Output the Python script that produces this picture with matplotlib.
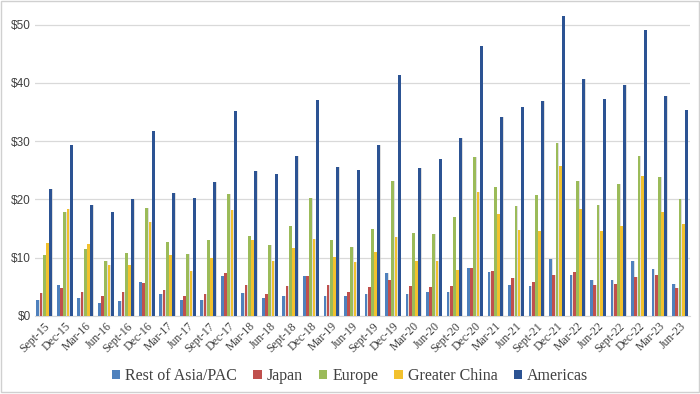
import matplotlib
matplotlib.use("Agg")
import matplotlib.pyplot as plt
from matplotlib.patches import Rectangle
import numpy as np

quarters = ["Sept-15", "Dec-15", "Mar-16", "Jun-16", "Sept-16", "Dec-16", "Mar-17", "Jun-17",
            "Sept-17", "Dec-17", "Mar-18", "Jun-18", "Sept-18", "Dec-18", "Mar-19", "Jun-19",
            "Sept-19", "Dec-19", "Mar-20", "Jun-20", "Sept-20", "Dec-20", "Mar-21", "Jun-21",
            "Sept-21", "Dec-21", "Mar-22", "Jun-22", "Sept-22", "Dec-22", "Mar-23", "Jun-23"]

rest_of_asia = [2.7, 5.4, 3.1, 2.3, 2.6, 5.8, 3.8, 2.7, 2.7, 6.9, 3.9, 3.1, 3.4, 6.9, 3.5, 3.5,
                3.7, 7.4, 3.8, 4.2, 4.1, 8.2, 7.5, 5.3, 5.1, 9.7, 7.0, 6.1, 6.2, 9.4, 8.0, 5.5]
japan = [3.9, 4.8, 4.2, 3.5, 4.2, 5.7, 4.5, 3.5, 3.8, 7.3, 5.4, 3.8, 5.2, 6.9, 5.4, 4.1,
         4.9, 6.2, 5.2, 4.9, 5.1, 8.2, 7.7, 6.5, 5.9, 7.1, 7.6, 5.4, 5.5, 6.7, 7.1, 4.8]
europe = [10.5, 17.9, 11.5, 9.5, 10.8, 18.5, 12.7, 10.7, 13.0, 21.0, 13.8, 12.1, 15.4, 20.3, 13.0, 11.9,
          14.9, 23.1, 14.2, 14.1, 16.9, 27.2, 22.2, 18.9, 20.7, 29.6, 23.1, 19.1, 22.7, 27.5, 23.9, 20.1]
greater_china = [12.5, 18.4, 12.4, 8.8, 8.7, 16.1, 10.4, 7.8, 10.0, 18.1, 13.1, 9.5, 11.6, 13.2, 10.2, 9.3,
                 11.0, 13.5, 9.5, 9.4, 7.9, 21.3, 17.5, 14.8, 14.5, 25.7, 18.3, 14.6, 15.4, 24.0, 17.9, 15.7]
americas = [21.7, 29.3, 19.1, 17.9, 20.1, 31.8, 21.1, 20.3, 23.0, 35.1, 24.8, 24.4, 27.4, 37.0, 25.5, 25.0,
            29.3, 41.4, 25.4, 26.9, 30.6, 46.3, 34.2, 35.8, 36.8, 51.4, 40.7, 37.3, 39.7, 49.1, 37.8, 35.3]

series_names = ["Rest of Asia/PAC", "Japan", "Europe", "Greater China", "Americas"]
series_vals = [rest_of_asia, japan, europe, greater_china, americas]
colors = ["#4F81BD", "#C0504D", "#9BBB59", "#F2C12E", "#2C5393"]

fig = plt.figure(figsize=(7.0, 3.94), dpi=100)
fig.patches.append(Rectangle((0.001, 0.004), 0.997, 0.994, transform=fig.transFigure,
                             fill=False, edgecolor="#D0D0D0", linewidth=1.0))
ax = fig.add_axes([0.05, 0.198, 0.936, 0.799])

x = np.arange(len(quarters))
step = 0.157
width = 0.135
offsets = (np.arange(5) - 2) * step
for vals, off, col, name in zip(series_vals, offsets, colors, series_names):
    # soft shadow
    ax.bar(x + off + 0.035, vals, width=width, color="#C8C8C8", alpha=0.6, zorder=2,
           linewidth=0)
    ax.bar(x + off, vals, width=width, color=col, label=name, zorder=3, linewidth=0)

ax.set_xlim(-0.45, 31.5)
ax.set_ylim(0, 54)
ax.set_yticks([0, 10, 20, 30, 40, 50])
ax.set_yticklabels(["$0", "$10", "$20", "$30", "$40", "$50"], fontsize=8.5,
                   family="Liberation Sans", color="#404040")
ax.yaxis.grid(True, color="#D9D9D9", linewidth=0.9, zorder=0)
ax.set_axisbelow(True)
for s in ["top", "right", "left"]:
    ax.spines[s].set_visible(False)
ax.spines["bottom"].set_color("#D9D9D9")
ax.tick_params(axis="y", length=0, pad=3)
ax.tick_params(axis="x", length=0, pad=3)
ax.set_xticks(x)
ax.set_xticklabels(quarters, rotation=45, ha="right", rotation_mode="anchor",
                   fontsize=8.5, family="Liberation Serif", color="#404040")

leg = fig.legend(loc="center", bbox_to_anchor=(0.5, 0.045), ncol=5, frameon=False,
                 prop={"family": "Liberation Serif", "size": 11.5},
                 handlelength=0.55, handleheight=0.55, handletextpad=0.3, columnspacing=1.0)
for t in leg.get_texts():
    t.set_color("#404040")

fig.savefig("out.png", dpi=100)
